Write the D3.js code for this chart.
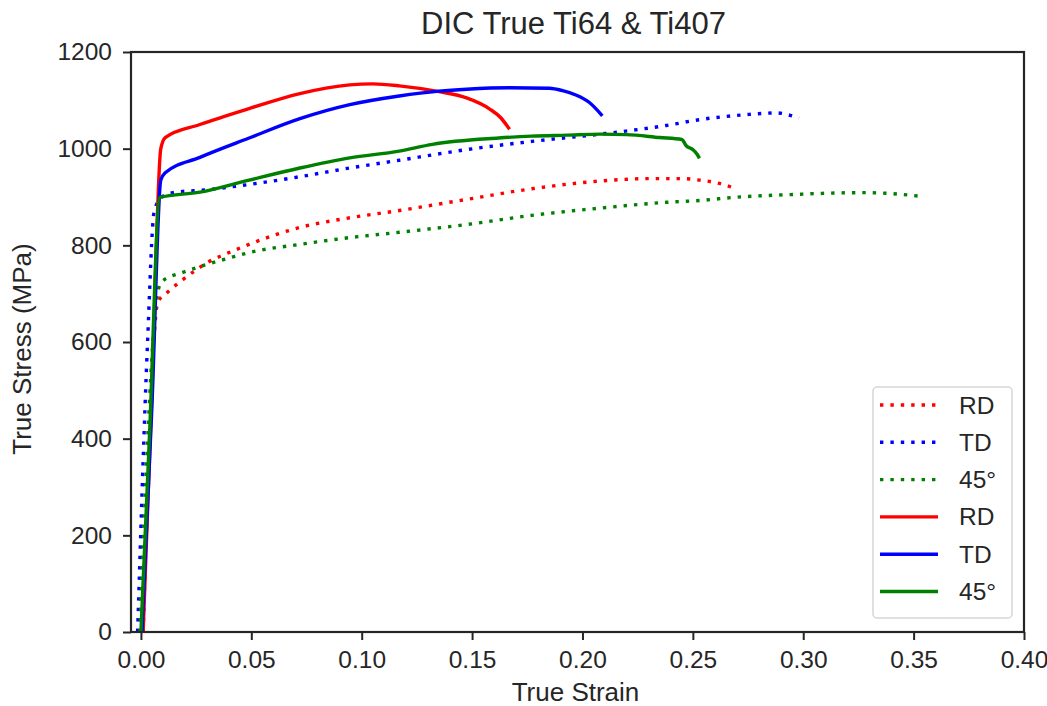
<!DOCTYPE html>
<html>
<head>
<meta charset="utf-8">
<script src="https://cdn.jsdelivr.net/npm/d3@7"></script>
<style>
  body { margin: 0; background: #fff; }
  text { font-family: Arial, "Liberation Sans", sans-serif; fill: #262626; }
</style>
</head>
<body>
<div id="chart"></div>
<script>
'use strict'

var width = 1047
var height = 706

// x ticks / y ticks
var xTicks = [0, 0.05, 0.1, 0.15, 0.2, 0.25, 0.3, 0.35, 0.4]
var yTicks = [0, 200, 400, 600, 800, 1000, 1200]

// dotted curves (Ti64)
var rdDotStrain = [0.001, 0.0077, 0.0118, 0.019, 0.030, 0.0425, 0.049, 0.072, 0.0946, 0.117, 0.1475, 0.177, 0.208, 0.230, 0.245, 0.253, 0.262, 0.269]
var rdDotStress = [0, 683, 702, 729, 764, 790, 802, 837, 857, 872, 895, 917, 933, 938, 938, 935, 928, 918]

var tdDotStrain = [-0.0015, 0.003, 0.006, 0.0095, 0.0145, 0.03, 0.049, 0.072, 0.0946, 0.117, 0.1475, 0.177, 0.208, 0.238, 0.253, 0.273, 0.288, 0.294, 0.298]
var tdDotStress = [0, 600, 870, 900, 909, 915, 926, 942, 960, 976, 998, 1015, 1030, 1048, 1060, 1070, 1074, 1069, 1063]

var d45DotStrain = [-0.0005, 0.0075, 0.0095, 0.019, 0.031, 0.0425, 0.049, 0.072, 0.0946, 0.117, 0.1475, 0.177, 0.208, 0.238, 0.254, 0.268, 0.294, 0.327, 0.340, 0.352]
var d45DotStress = [0, 700, 725, 744, 762, 777, 785, 802, 816, 827, 843, 862, 877, 889, 893, 899, 905, 909, 907, 902]

// solid curves (Ti407)
var rdStrain = [0.001, 0.005, 0.009, 0.011, 0.0267, 0.049, 0.072, 0.0946, 0.105, 0.117, 0.135, 0.1475, 0.158, 0.163, 0.167]
var rdStress = [0, 500, 1000, 1023, 1050, 1083, 1114, 1132, 1134, 1130, 1118, 1105, 1082, 1064, 1040]

var tdStrain = [0.0005, 0.005, 0.009, 0.011, 0.0267, 0.049, 0.072, 0.0946, 0.117, 0.135, 0.1475, 0.167, 0.185, 0.191, 0.197, 0.203, 0.209]
var tdStress = [0, 470, 935, 950, 982, 1022, 1062, 1091, 1109, 1119, 1123, 1126, 1125, 1120, 1111, 1096, 1068]

var d45Strain = [0, 0.004, 0.0085, 0.0267, 0.049, 0.072, 0.0946, 0.117, 0.132, 0.162, 0.177, 0.193, 0.208, 0.220, 0.235, 0.245, 0.247, 0.250, 0.252, 0.253]
var d45Stress = [0, 420, 899, 910, 935, 960, 981, 995, 1009, 1022, 1026, 1028, 1030, 1029, 1023, 1019, 1006, 998, 988, 980]

var series = [
  { label: 'RD', color: 'red', dotted: true, xs: rdDotStrain, ys: rdDotStress },
  { label: 'TD', color: 'blue', dotted: true, xs: tdDotStrain, ys: tdDotStress },
  { label: '45°', color: 'green', dotted: true, xs: d45DotStrain, ys: d45DotStress },
  { label: 'RD', color: 'red', dotted: false, xs: rdStrain, ys: rdStress },
  { label: 'TD', color: 'blue', dotted: false, xs: tdStrain, ys: tdStress },
  { label: '45°', color: 'green', dotted: false, xs: d45Strain, ys: d45Stress }
]

var plot = { left: 131, right: 1024, top: 52, bottom: 632 }

var x = d3.scaleLinear().domain([-0.0045, 0.40]).range([plot.left, plot.right])
var y = d3.scaleLinear().domain([0, 1200]).range([plot.bottom, plot.top])

var svg = d3.select('#chart').append('svg')
  .attr('width', width)
  .attr('height', height)

svg.append('defs').append('clipPath').attr('id', 'clip')
  .append('rect')
  .attr('x', plot.left).attr('y', plot.top)
  .attr('width', plot.right - plot.left).attr('height', plot.bottom - plot.top)

var line = d3.line()
  .x(d => x(d[0]))
  .y(d => y(d[1]))
  .curve(d3.curveMonotoneX)

var lines = svg.append('g').attr('clip-path', 'url(#clip)')
series.forEach(function (s) {
  lines.append('path')
    .datum(s.xs.map((v, i) => [v, s.ys[i]]))
    .attr('fill', 'none')
    .attr('stroke', s.color)
    .attr('stroke-width', 3.4)
    .attr('stroke-dasharray', s.dotted ? '3.4,7' : null)
    .attr('stroke-linejoin', 'round')
    .attr('d', line)
})

// axes
var xAxis = svg.append('g')
  .attr('transform', 'translate(0,' + plot.bottom + ')')
  .call(d3.axisBottom(x).tickValues(xTicks).tickFormat(d3.format('.2f')).tickSize(8).tickPadding(11))
var yAxis = svg.append('g')
  .attr('transform', 'translate(' + plot.left + ',0)')
  .call(d3.axisLeft(y).tickValues(yTicks).tickFormat(d3.format('d')).tickSize(8).tickPadding(11))

;[xAxis, yAxis].forEach(function (a) {
  a.select('.domain').remove()
  a.selectAll('.tick line').attr('stroke', '#262626').attr('stroke-width', 2)
  a.selectAll('.tick text').attr('font-size', 24.5).attr('font-family', 'Arial, "Liberation Sans", sans-serif').attr('fill', '#262626')
})

svg.append('rect')
  .attr('x', plot.left).attr('y', plot.top)
  .attr('width', plot.right - plot.left).attr('height', plot.bottom - plot.top)
  .attr('fill', 'none')
  .attr('stroke', '#262626')
  .attr('stroke-width', 2.2)

// titles
var cx = (plot.left + plot.right) / 2
svg.append('text')
  .attr('x', cx - 4).attr('y', 34)
  .attr('text-anchor', 'middle')
  .attr('font-size', 31)
  .text('DIC True Ti64 & Ti407')

svg.append('text')
  .attr('x', cx - 2).attr('y', 701)
  .attr('text-anchor', 'middle')
  .attr('font-size', 26)
  .text('True Strain')

svg.append('text')
  .attr('transform', 'translate(31,' + ((plot.top + plot.bottom) / 2 + 7) + ') rotate(-90)')
  .attr('text-anchor', 'middle')
  .attr('font-size', 26)
  .text('True Stress (MPa)')

// legend
var legend = svg.append('g')
legend.append('rect')
  .attr('x', 873).attr('y', 387)
  .attr('width', 139).attr('height', 231)
  .attr('rx', 4)
  .attr('fill', '#fff')
  .attr('fill-opacity', 0.8)
  .attr('stroke', '#d6d6d6')
  .attr('stroke-width', 1.5)

series.forEach(function (s, i) {
  var ry = 405 + i * 37.3
  legend.append('line')
    .attr('x1', 880).attr('x2', 938)
    .attr('y1', ry).attr('y2', ry)
    .attr('stroke', s.color)
    .attr('stroke-width', 3.4)
    .attr('stroke-dasharray', s.dotted ? '3.4,7' : null)
  legend.append('text')
    .attr('x', 959).attr('y', ry + 8.5)
    .attr('font-size', 24.5)
    .text(s.label)
})
</script>
</body>
</html>
